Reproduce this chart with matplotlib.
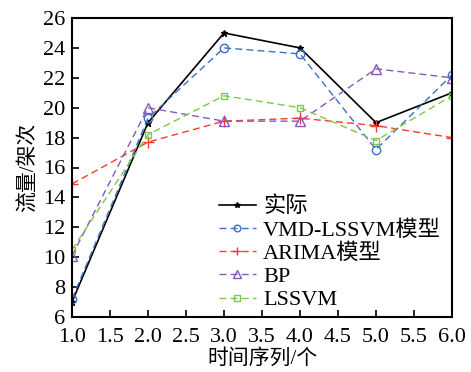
import matplotlib
matplotlib.use("Agg")
import matplotlib.pyplot as plt

plt.rcParams['font.family'] = ['Liberation Serif', 'Noto Sans CJK SC']
plt.rcParams['axes.unicode_minus'] = False

x = [1, 2, 3, 4, 5, 6]
actual = [7.0, 19.0, 25.0, 24.0, 19.0, 21.0]
vmd_lssvm = [7.2, 19.3, 24.0, 23.6, 17.2, 22.2]
arima = [14.9, 17.7, 19.1, 19.3, 18.8, 18.0]
bp = [10.1, 20.0, 19.1, 19.1, 22.6, 22.0]
lssvm = [10.5, 18.2, 20.8, 20.0, 17.8, 20.8]

fig = plt.figure(figsize=(4.71, 3.72), dpi=100)
ax = fig.add_axes([72 / 471, 1 - 317 / 372, 380 / 471, 299 / 372])

ax.plot(x, actual, '-', color='black', marker='*', markersize=5, lw=1.2, label='实际')
ax.plot(x, vmd_lssvm, '--', color='#3d6fc9', marker='o', markersize=6, mfc='none', lw=1.0,
        dashes=(5, 3), label='VMD-LSSVM模型')
ax.plot(x, arima, '--', color='#ff3a2a', marker='+', markersize=8, lw=1.0,
        dashes=(5, 3), label='ARIMA模型')
ax.plot(x, bp, '--', color='#8757c0', marker='^', markersize=7, mfc='none', lw=1.0,
        dashes=(5, 3), label='BP')
ax.plot(x, lssvm, '--', color='#7cc94a', marker='s', markersize=5, mfc='none', lw=1.0,
        dashes=(5, 3), label='LSSVM')

ax.set_xlim(1, 6)
ax.set_ylim(6, 26)
ax.set_xticks([1.0, 1.5, 2.0, 2.5, 3.0, 3.5, 4.0, 4.5, 5.0, 5.5, 6.0])
ax.set_yticks(range(6, 27, 2))
ax.tick_params(direction='in', length=5, width=1.2, labelsize=16)
ax.tick_params(axis='x', pad=8)
ax.tick_params(axis='y', pad=5)
for s in ax.spines.values():
    s.set_linewidth(1.5)

ax.set_xlabel('时间序列/个', fontsize=15, labelpad=1)
ax.set_ylabel('流量/架次', fontsize=15, labelpad=3)

# legend sits low in the lower right, no frame
ax.legend(loc='lower right', bbox_to_anchor=(1.0, -0.015), frameon=False, fontsize=16,
          handlelength=1.7, handletextpad=0.3, labelspacing=0.12, borderaxespad=0.1,
          markerscale=0.8)

fig.savefig('out.png', dpi=100)
